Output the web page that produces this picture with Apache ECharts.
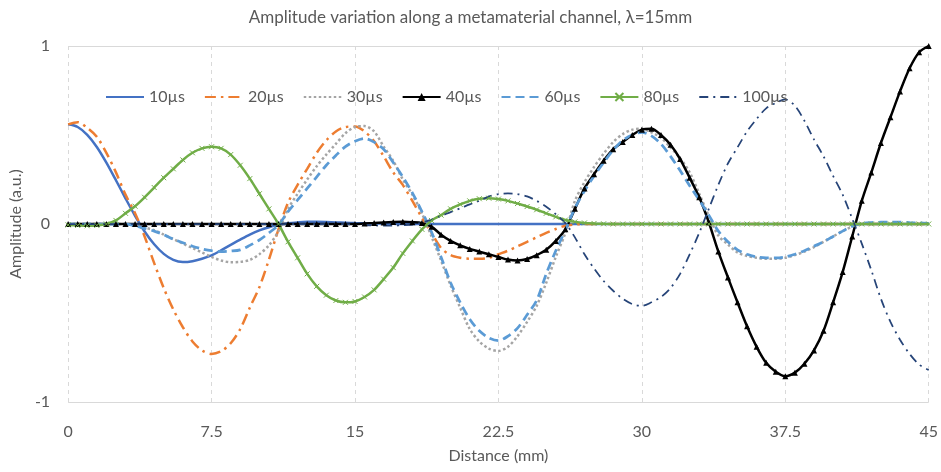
<!DOCTYPE html>
<html>
<head>
<meta charset="utf-8">
<title>Amplitude variation along a metamaterial channel</title>
<style>
	*{ margin: 0; padding: 0; }
	body{ background: #fff; }
	#chart{ width: 941px; height: 472px; }
</style>
</head>
<body>
<div id="chart"></div>
<script src="https://cdn.jsdelivr.net/npm/echarts@6/dist/echarts.min.js"></script>
<script>
// distance along the channel (mm), one sample every 0.5 mm
var distance = [
	0, 0.5, 1, 1.5, 2, 2.5, 3, 3.5, 4, 4.5,
	5, 5.5, 6, 6.5, 7, 7.5, 8, 8.5, 9, 9.5,
	10, 10.5, 11, 11.5, 12, 12.5, 13, 13.5, 14, 14.5,
	15, 15.5, 16, 16.5, 17, 17.5, 18, 18.5, 19, 19.5,
	20, 20.5, 21, 21.5, 22, 22.5, 23, 23.5, 24, 24.5,
	25, 25.5, 26, 26.5, 27, 27.5, 28, 28.5, 29, 29.5,
	30, 30.5, 31, 31.5, 32, 32.5, 33, 33.5, 34, 34.5,
	35, 35.5, 36, 36.5, 37, 37.5, 38, 38.5, 39, 39.5,
	40, 40.5, 41, 41.5, 42, 42.5, 43, 43.5, 44, 44.5,
	45
];
var xTicks = [0, 7.5, 15, 22.5, 30, 37.5, 45];
var yTicks = [-1, 0, 1];

var amp10 = [
	0.56, 0.545, 0.501, 0.433, 0.345, 0.246, 0.144, 0.046, -0.042, -0.114,
	-0.168, -0.202, -0.214, -0.209, -0.195, -0.176, -0.148, -0.117, -0.088, -0.06,
	-0.036, -0.018, -0.005, 0.004, 0.009, 0.012, 0.012, 0.011, 0.009, 0.007,
	0.005, 0.004, 0.003, 0.002, 0.001, 0, 0, 0, 0, 0,
	0, 0, 0, 0, 0, 0, 0, 0, 0, 0,
	0, 0, 0, 0, 0, 0, 0, 0, 0, 0,
	0, 0, 0, 0, 0, 0, 0, 0, 0, 0,
	0, 0, 0, 0, 0, 0, 0, 0, 0, 0,
	0, 0, 0, 0, 0, 0, 0, 0, 0, 0,
	0
];
var amp20 = [
	0.56, 0.572, 0.54, 0.49, 0.40, 0.29, 0.165, 0.06, -0.07, -0.22,
	-0.36, -0.48, -0.58, -0.66, -0.71, -0.73, -0.715, -0.67, -0.59, -0.47,
	-0.355, -0.2, -0.03, 0.12, 0.22, 0.31, 0.40, 0.47, 0.52, 0.545,
	0.548, 0.52, 0.465, 0.38, 0.29, 0.22, 0.13, 0.035, -0.05, -0.135,
	-0.175, -0.19, -0.195, -0.195, -0.19, -0.17, -0.15, -0.125, -0.10, -0.075,
	-0.05, -0.028, -0.01, -0.003, 0, 0, 0, 0, 0, 0,
	0, 0, 0, 0, 0, 0, 0, 0, 0, 0,
	0, 0, 0, 0, 0, 0, 0, 0, 0, 0,
	0, 0, 0, 0, 0, 0, 0, 0, 0, 0,
	0
];
var amp30 = [
	0, 0, 0, 0, 0, 0, 0, -0.005, -0.02, -0.035,
	-0.06, -0.085, -0.11, -0.135, -0.16, -0.185, -0.205, -0.215, -0.213, -0.202,
	-0.17, -0.12, -0.04, 0.085, 0.17, 0.25, 0.325, 0.39, 0.45, 0.51,
	0.545, 0.55, 0.52, 0.435, 0.355, 0.25, 0.165, 0.06, -0.07, -0.205,
	-0.345, -0.47, -0.59, -0.66, -0.70, -0.713, -0.69, -0.63, -0.55, -0.46,
	-0.33, -0.185, -0.05, 0.13, 0.235, 0.32, 0.395, 0.46, 0.505, 0.53,
	0.535, 0.515, 0.485, 0.43, 0.37, 0.29, 0.17, 0.045, -0.065, -0.115,
	-0.16, -0.18, -0.19, -0.195, -0.195, -0.19, -0.175, -0.155, -0.13, -0.10,
	-0.07, -0.04, -0.015, 0, 0, 0, 0, 0, 0, 0,
	0
];
var amp40 = [
	0, 0, 0, 0, 0, 0, 0, 0, 0, 0,
	0, 0, 0, 0, 0, 0, 0, 0, 0, 0,
	0, 0, 0, 0, 0, 0, 0, 0, 0, 0,
	0, 0.003, 0.006, 0.009, 0.011, 0.012, 0.01, 0.005, -0.015, -0.06,
	-0.095, -0.12, -0.14, -0.155, -0.17, -0.185, -0.2, -0.205, -0.197, -0.175,
	-0.145, -0.095, -0.03, 0.085, 0.2, 0.28, 0.355, 0.42, 0.46, 0.50,
	0.53, 0.535, 0.50, 0.445, 0.365, 0.26, 0.15, 0.01, -0.155, -0.30,
	-0.44, -0.575, -0.69, -0.78, -0.83, -0.855, -0.835, -0.785, -0.71, -0.60,
	-0.44, -0.27, -0.07, 0.13, 0.29, 0.455, 0.60, 0.745, 0.875, 0.965,
	1.0
];
var amp60 = [
	0, 0, 0, 0, 0, 0, 0, -0.01, -0.025, -0.04,
	-0.06, -0.085, -0.105, -0.125, -0.14, -0.15, -0.155, -0.152, -0.145, -0.12,
	-0.09, -0.05, -0.005, 0.07, 0.135, 0.2, 0.265, 0.33, 0.385, 0.435,
	0.465, 0.48, 0.46, 0.42, 0.345, 0.265, 0.175, 0.07, -0.045, -0.185,
	-0.33, -0.44, -0.535, -0.60, -0.64, -0.655, -0.63, -0.585, -0.51, -0.43,
	-0.28, -0.15, -0.035, 0.09, 0.185, 0.27, 0.345, 0.415, 0.47, 0.50,
	0.515, 0.495, 0.45, 0.38, 0.30, 0.215, 0.135, 0.05, -0.04, -0.10,
	-0.145, -0.17, -0.185, -0.19, -0.19, -0.185, -0.17, -0.15, -0.125, -0.10,
	-0.07, -0.04, -0.012, 0.003, 0.008, 0.01, 0.01, 0.01, 0.008, 0.006,
	0.004
];
var amp80 = [
	-0.005, -0.008, -0.01, -0.008, 0, 0.02, 0.06, 0.10, 0.15, 0.205,
	0.26, 0.31, 0.36, 0.40, 0.425, 0.434, 0.425, 0.39, 0.33, 0.255,
	0.17, 0.085, 0.0, -0.10, -0.19, -0.28, -0.35, -0.40, -0.43, -0.44,
	-0.435, -0.41, -0.37, -0.31, -0.245, -0.165, -0.095, -0.03, 0.02, 0.05,
	0.085, 0.11, 0.13, 0.142, 0.145, 0.14, 0.13, 0.115, 0.098, 0.08,
	0.06, 0.04, 0.022, 0.012, 0.006, 0.003, 0.001, 0, 0, 0,
	0, 0, 0, 0, 0, 0, 0, 0, 0, 0,
	0, 0, 0, 0, 0, 0, 0, 0, 0, 0,
	0, 0, 0, 0, 0, 0, 0, 0, 0, 0,
	0
];
var amp100 = [
	0, 0, 0, 0, 0, 0, 0, 0, 0, 0,
	0, 0, 0, 0, 0, 0, 0, 0, 0, 0,
	0, 0, 0, 0, 0, 0, 0, 0, 0, 0,
	-0.004, -0.006, -0.008, -0.009, -0.009, -0.007, -0.003, 0.008, 0.025, 0.045,
	0.067, 0.088, 0.11, 0.13, 0.155, 0.168, 0.172, 0.168, 0.155, 0.13,
	0.097, 0.055, 0.005, -0.075, -0.17, -0.25, -0.32, -0.375, -0.42, -0.45,
	-0.46, -0.44, -0.41, -0.36, -0.28, -0.17, -0.05, 0.085, 0.22, 0.34,
	0.43, 0.52, 0.59, 0.65, 0.68, 0.70, 0.665, 0.58, 0.475, 0.38,
	0.27, 0.165, 0.03, -0.11, -0.26, -0.42, -0.55, -0.65, -0.73, -0.79,
	-0.82
];

var FONT = 'Lato';
var TXT = '#595959';

function pairs(values) {
	return distance.map(function (d, i) { return [d, values[i]]; });
}

// legend entries for plain lines: hide the marker so only the stroke shows
var noMark = { color: 'rgba(0,0,0,0)', borderWidth: 0 };

var chart = echarts.init(document.getElementById('chart'));
var option = {
	animation: false,
	textStyle: { fontFamily: FONT },
	title: {
		text: 'Amplitude variation along a metamaterial channel, λ=15mm',
		left: 'center',
		top: 4,
		textStyle: { color: TXT, fontSize: 17, fontWeight: 'normal', fontFamily: FONT }
	},
	legend: {
		left: 100,
		top: 84,
		itemWidth: 38,
		itemHeight: 10,
		itemGap: 19,
		textStyle: { color: TXT, fontSize: 16, fontFamily: FONT },
		data: [
			{ name: '10µs', itemStyle: noMark },
			{ name: '20µs', itemStyle: noMark },
			{ name: '30µs', itemStyle: noMark },
			{ name: '40µs' },
			{ name: '60µs', itemStyle: noMark },
			{ name: '80µs' },
			{ name: '100µs', itemStyle: noMark }
		]
	},
	grid: { left: 68, right: 11, top: 46, bottom: 70 },
	xAxis: {
		type: 'value',
		min: xTicks[0],
		max: xTicks[xTicks.length - 1],
		interval: 7.5,
		name: 'Distance (mm)',
		nameLocation: 'middle',
		nameGap: 46,
		nameTextStyle: { color: TXT, fontSize: 16, fontFamily: FONT },
		axisLine: { show: false },
		axisTick: { show: false },
		axisLabel: { color: TXT, fontSize: 16, margin: 22, fontFamily: FONT },
		splitLine: { show: true, lineStyle: { color: '#d9d9d9', type: [4, 4], width: 1 } }
	},
	yAxis: {
		type: 'value',
		min: yTicks[0],
		max: yTicks[yTicks.length - 1],
		interval: 1,
		name: 'Amplitude (a.u.)',
		nameLocation: 'middle',
		nameGap: 42,
		nameTextStyle: { color: TXT, fontSize: 16, fontFamily: FONT },
		axisLine: { show: false },
		axisTick: { show: false },
		axisLabel: { color: TXT, fontSize: 16, margin: 18, fontFamily: FONT },
		splitLine: { show: true, lineStyle: { color: '#d9d9d9', width: 1 } }
	},
	series: [
		{
			name: '10µs', type: 'line', smooth: 0.3, symbol: 'none',
			itemStyle: { color: '#4472C4' },
			lineStyle: { color: '#4472C4', width: 2.5 },
			data: pairs(amp10)
		},
		{
			name: '20µs', type: 'line', smooth: 0.3, symbol: 'none',
			itemStyle: { color: '#ED7D31' },
			lineStyle: { color: '#ED7D31', width: 2.5, type: [11, 5, 2.5, 5] },
			data: pairs(amp20)
		},
		{
			name: '30µs', type: 'line', smooth: 0.3, symbol: 'none',
			itemStyle: { color: '#A5A5A5' },
			lineStyle: { color: '#A5A5A5', width: 2.5, type: [2.5, 2.5] },
			data: pairs(amp30)
		},
		{
			name: '40µs', type: 'line', smooth: 0.3, symbol: 'triangle', symbolSize: 6,
			itemStyle: { color: '#000000' },
			lineStyle: { color: '#000000', width: 2.5 },
			data: pairs(amp40)
		},
		{
			name: '60µs', type: 'line', smooth: 0.3, symbol: 'none',
			itemStyle: { color: '#5B9BD5' },
			lineStyle: { color: '#5B9BD5', width: 2.75, type: [9, 5] },
			data: pairs(amp60)
		},
		{
			name: '80µs', type: 'line', smooth: 0.3,
			symbol: 'path://M0,0L10,10M10,0L0,10', symbolSize: 5,
			itemStyle: { color: '#70AD47', borderColor: '#70AD47', borderWidth: 1 },
			lineStyle: { color: '#70AD47', width: 2.5 },
			data: pairs(amp80)
		},
		{
			name: '100µs', type: 'line', smooth: 0.3, symbol: 'none',
			itemStyle: { color: '#264478' },
			lineStyle: { color: '#264478', width: 1.75, type: [9, 5, 2, 5] },
			data: pairs(amp100)
		}
	]
};
chart.setOption(option);
</script>
</body>
</html>
